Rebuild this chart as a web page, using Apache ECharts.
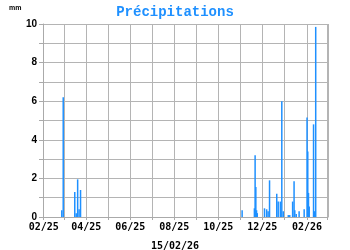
<!DOCTYPE html>
<html><head><meta charset="utf-8">
<script src="https://cdn.jsdelivr.net/npm/echarts@6/dist/echarts.min.js"></script>
<style>html,body{margin:0;padding:0;background:#fff}#c{width:350px;height:250px}</style>
</head><body><div id="c"></div>
<script>
const titleText = 'Précipitations';
const unitText = 'mm';
const dateText = '15/02/26';
const xMin = '2025-02-01';
const xMax = '2026-03-01';
const dates = ['2025-02-26','2025-02-28','2025-03-16','2025-03-18','2025-03-20','2025-03-22','2025-03-24',
 '2025-11-03','2025-11-20','2025-11-21','2025-11-22','2025-11-23','2025-11-24',
 '2025-12-04','2025-12-07','2025-12-09','2025-12-11','2025-12-21','2025-12-23','2025-12-26','2025-12-28','2025-12-30',
 '2026-01-06','2026-01-08','2026-01-12','2026-01-14','2026-01-15','2026-01-17','2026-01-21','2026-01-28',
 '2026-02-01','2026-02-02','2026-02-03','2026-02-04','2026-02-10','2026-02-11','2026-02-13'];
const rain = [0.35,6.2,1.3,0.2,1.95,0.4,1.4,
 0.35,0.45,3.2,1.55,0.35,0.2,
 0.45,0.4,0.3,1.9,1.2,0.8,0.8,6.0,0.3,
 0.1,0.1,0.8,1.85,0.35,0.15,0.3,0.4,
 5.15,3.4,1.25,0.55,4.8,0.3,9.85];
const yMin = 0, yMax = 10, yStep = 1;

const chart = echarts.init(document.getElementById('c'), null, {renderer:'canvas'});
chart.setOption({
  animation:false,
  backgroundColor:'#fff',
  title:[{text:titleText,left:'center',top:0,textStyle:{fontFamily:'Liberation Mono',fontWeight:'bold',fontSize:14,color:'#1E90FF'}},
         {text:unitText,left:4,top:0,textStyle:{fontFamily:'Liberation Sans',fontWeight:'bold',fontSize:7,color:'#000'}},
         {text:dateText,left:'center',top:236,textStyle:{fontFamily:'DejaVu Sans Mono',fontWeight:'bold',fontSize:10,color:'#000'}}],
  grid:{left:43,right:22,top:24,bottom:33},
  xAxis:{type:'time',min:xMin,max:xMax,
    minInterval:28*86400000,maxInterval:31*86400000,
    axisLine:{lineStyle:{color:'#aaa'}},
    axisTick:{show:true,length:3,lineStyle:{color:'#aaa'}},
    splitLine:{show:true,lineStyle:{color:'#b4b4b4',width:1}},
    axisLabel:{fontFamily:'DejaVu Sans Mono',fontWeight:'bold',fontSize:10,color:'#000',margin:5,hideOverlap:false,
      formatter:function(v){const d=new Date(v);const m=d.getMonth();if(m%2!==1)return '';return String(m+1).padStart(2,'0')+'/'+String(d.getFullYear()%100).padStart(2,'0');}}},
  yAxis:{type:'value',min:yMin,max:yMax,interval:yStep,
    axisLine:{show:true,lineStyle:{color:'#aaa'}},
    axisTick:{show:true,length:4,lineStyle:{color:'#aaa'}},
    splitLine:{show:true,lineStyle:{color:'#b4b4b4',width:1}},
    axisLabel:{fontFamily:'Liberation Sans',fontWeight:'bold',fontSize:10,color:'#000',margin:6,
      formatter:function(v){return v%2===0?String(v):'';}}},
  series:[{type:'bar',data:dates.map((d,i)=>[d,rain[i]]),barWidth:1.5,itemStyle:{color:'#1E90FF'}}]
});
</script></body></html>
